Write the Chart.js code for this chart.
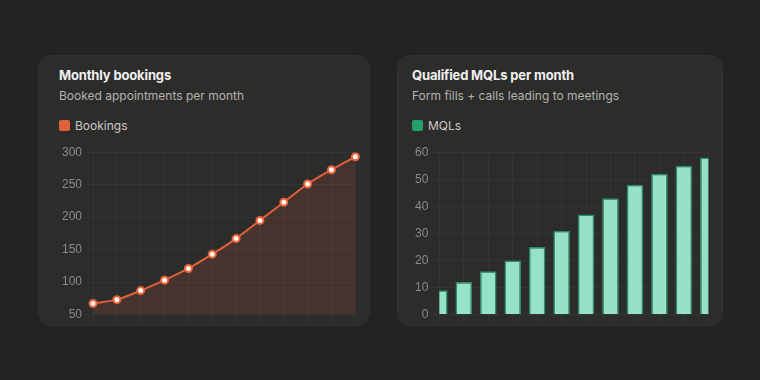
<!DOCTYPE html>
<html>
<head>
<meta charset="utf-8">
<script src="https://cdn.jsdelivr.net/npm/chart.js@4.4.1/dist/chart.umd.min.js"></script>
<style>
  html, body { margin: 0; padding: 0; }
  body { width: 760px; height: 380px; background: #232323; position: relative; overflow: hidden; font-family: Inter, "Noto Sans", sans-serif; }
  .card { position: absolute; top: 55px; height: 271px; background: #2c2c2b; border-radius: 14px; overflow: hidden; box-shadow: inset 0 0 0 1px rgba(255,255,255,0.03); }
  #c1 { left: 38px; width: 332px; }
  #c2 { left: 397px; width: 326px; }
  .title { position: absolute; top: 12px; font-size: 13px; line-height: 16px; font-weight: 700; color: #f1f1f0; white-space: nowrap; letter-spacing: -0.15px; }
  .sub { position: absolute; top: 33px; font-size: 12px; line-height: 16px; color: #b3b3b1; white-space: nowrap; }
  .leg { position: absolute; top: 63px; font-size: 12px; line-height: 16px; color: #cacac8; white-space: nowrap; }
  .leg i { display: inline-block; width: 11px; height: 11px; border-radius: 2px; vertical-align: -1px; margin-right: 5px; }
  .cv { position: absolute; top: 87px; height: 201px; width: 310px; }
</style>
</head>
<body>
<script>
const months = ['Jan','Feb','Mar','Apr','May','Jun','Jul','Aug','Sep','Oct','Nov','Dec'];
const bookings = [67, 73, 87, 103, 121, 143, 167, 195, 223, 251, 273, 293];
const mqls = [9, 12, 16, 20, 25, 31, 37, 43, 48, 52, 55, 58];
const bookingsTicks = [50, 100, 150, 200, 250, 300];
const mqlTicks = [0, 10, 20, 30, 40, 50, 60];
</script>

<div class="card" id="c1">
  <div class="title" style="left:21px">Monthly bookings</div>
  <div class="sub" style="left:21px">Booked appointments per month</div>
  <div class="leg" style="left:21px"><i style="background:#e0603a"></i>Bookings</div>
  <div class="cv" style="left:21px"><canvas id="ch1"></canvas></div>
</div>
<div class="card" id="c2">
  <div class="title" style="left:15px">Qualified MQLs per month</div>
  <div class="sub" style="left:15px">Form fills + calls leading to meetings</div>
  <div class="leg" style="left:15px"><i style="background:#22a06b"></i>MQLs</div>
  <div class="cv" style="left:15px"><canvas id="ch2"></canvas></div>
</div>

<script>
Chart.defaults.font.family = '"Liberation Sans", Arial, sans-serif';
Chart.defaults.font.size = 12;
Chart.defaults.color = '#8b8b89';
const gridColor = 'rgba(255,255,255,0.04)';

function fixedTicks(list) {
  return function(scale) {
    scale.ticks = list.map(v => ({ value: v }));
  };
}

new Chart(document.getElementById('ch1'), {
  type: 'line',
  data: {
    labels: months,
    datasets: [{
      label: 'Bookings',
      data: bookings,
      borderColor: '#e0603a',
      backgroundColor: 'rgba(224,96,58,0.15)',
      borderWidth: 2,
      fill: 'start',
      tension: 0.25,
      pointRadius: 3.5,
      pointBackgroundColor: '#fff3ec',
      pointBorderColor: '#e8643c',
      pointBorderWidth: 2
    }]
  },
  options: {
    responsive: true,
    maintainAspectRatio: false,
    animation: false,
    plugins: { legend: { display: false }, tooltip: { enabled: false } },
    scales: {
      x: {
        offset: false,
        grid: { color: gridColor, tickLength: 8 },
        border: { display: false },
        ticks: { maxRotation: 0, autoSkip: false, color: '#6f6f6d' }
      },
      y: {
        min: 50, max: 300,
        afterBuildTicks: fixedTicks(bookingsTicks),
        grid: { color: gridColor, tickLength: 8 },
        border: { display: false },
        ticks: { padding: 3 }
      }
    }
  }
});

new Chart(document.getElementById('ch2'), {
  type: 'bar',
  data: {
    labels: months,
    datasets: [{
      label: 'MQLs',
      data: mqls,
      backgroundColor: '#95e2c6',
      borderColor: '#2b8d67',
      borderWidth: 1.5,
      categoryPercentage: 0.8,
      barPercentage: 0.85,
      clip: 0
    }]
  },
  options: {
    responsive: true,
    maintainAspectRatio: false,
    animation: false,
    plugins: { legend: { display: false }, tooltip: { enabled: false } },
    scales: {
      x: {
        offset: false,
        grid: { color: gridColor, tickLength: 8, offset: false },
        border: { display: false },
        ticks: { maxRotation: 0, autoSkip: false, color: '#6f6f6d' }
      },
      y: {
        min: 0, max: 60,
        afterBuildTicks: fixedTicks(mqlTicks),
        grid: { color: gridColor, tickLength: 8 },
        border: { display: false },
        ticks: { padding: 3 }
      }
    }
  }
});
</script>
</body>
</html>
